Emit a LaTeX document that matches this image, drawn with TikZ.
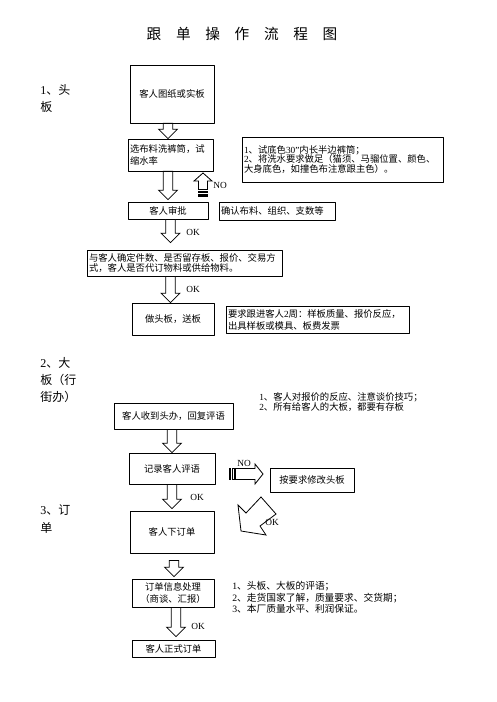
\documentclass[tikz,border=0pt]{standalone}
\usepackage{fontspec}
\setmainfont{Liberation Serif}
\newfontfamily\cjk{Noto Sans CJK SC}
\usetikzlibrary{calc}
\newcommand{\latn}[1]{{\rmfamily#1}}
\tikzset{
  box/.style={draw,line width=0.6pt,inner sep=1.5pt,font=\cjk\fontsize{7}{8.5}\selectfont},
  lbox/.style={box,align=left},
  note/.style={inner sep=0pt,align=left,font=\cjk\fontsize{7}{8}\selectfont},
  sec/.style={inner sep=0pt,align=left,font=\cjk\fontsize{9}{13}\selectfont},
  tag/.style={inner sep=0pt,font=\fontsize{7}{8}\selectfont},
  blk/.style={draw,line width=0.6pt,line join=miter,fill=white},
}
% hollow block arrow: x, start, tip
\newcommand{\blkdown}[3]{%
  \draw[blk] let \p3=(#1,0), \p1=#2, \p2=#3 in
    (\x3-3.5pt,\y1) -- (\x3-3.5pt,\y2+7pt) -- (\x3-7pt,\y2+7pt) -- (\x3,\y2)
    -- (\x3+7pt,\y2+7pt) -- (\x3+3.5pt,\y2+7pt) -- (\x3+3.5pt,\y1) -- cycle;}

\begin{document}
\begin{tikzpicture}[x=0.75pt,y=-0.75pt,line cap=round,line join=round]
\useasboundingbox (0,0) rectangle (496,702);
\node[font=\cjk\fontsize{11}{13}\selectfont] (title) at (242,34) {跟　单　操　作　流　程　图};
% 1 head sample
\node[sec,anchor=west] (s1) at (40,98.5) {\latn{1}、头\\板};
\node[box,minimum width=63pt,minimum height=43.5pt] (b1) at (172,94) {客人图纸或实板};
\node[lbox,text width=60.75pt,minimum height=24pt] (b2) at (170.5,155) {选布料洗裤筒，试\\缩水率};
\node[lbox,text width=147.75pt,minimum height=33.75pt,font=\cjk\fontsize{7}{7.3}\selectfont] (n1) at (342.5,159.5) {\latn{1}、试底色\latn{30''}内长半边裤筒；\\\latn{2}、将洗水要求做足（猫须、马骝位置、颜色、\\大身底色，如撞色布注意跟主色）。};
\node[box,minimum width=60pt,minimum height=12.75pt] (b3) at (168,210.5) {客人审批};
\node[lbox,text width=84pt,minimum height=13.5pt] (n3) at (277,211) {确认布料、组织、支数等};
\node[lbox,text width=143.25pt,minimum height=19.5pt,font=\cjk\fontsize{7}{7.3}\selectfont] (b4) at (184.5,263) {与客人确定件数、是否留存板、报价、交易方\\式，客人是否代订物料或供给物料。};
\node[box,minimum width=61.5pt,minimum height=24pt] (b5) at (173,319) {做头板，送板};
\node[lbox,text width=134.25pt,minimum height=20.25pt,font=\cjk\fontsize{7}{9}\selectfont] (n5) at (317.5,319.5) {要求跟进客人\latn{2}周：样板质量、报价反应，\\出具样板或模具、板费发票};
% 2 big sample
\node[sec,anchor=west] (s2) at (40,380) {\latn{2}、大\\板（行\\街办）};
\node[note,anchor=west] (t6) at (259,402) {\latn{1}、客人对报价的反应、注意谈价技巧；\\\latn{2}、所有给客人的大板，都要有存板};
\node[box,minimum width=89.25pt,minimum height=19.5pt] (b6) at (173.5,416) {客人收到头办，回复评语};
\node[box,minimum width=64.5pt,minimum height=23.25pt] (b7) at (172,468.5) {记录客人评语};
\node[box,minimum width=63pt,minimum height=18pt] (b8) at (312,480) {按要求修改头板};
% 3 order
\node[sec,anchor=west] (s3) at (40,519) {\latn{3}、订\\单};
\node[box,minimum width=63pt,minimum height=31.5pt] (b9) at (172,532) {客人下订单};
\node[box,align=center,minimum width=61.5pt,minimum height=21pt] (b10) at (173,593) {订单信息处理\\（商谈、汇报）};
\node[note,anchor=west,font=\cjk\fontsize{7.3}{8.6}\selectfont] (t10) at (232,597.5) {\latn{1}、头板、大板的评语；\\\latn{2}、走货国家了解，质量要求、交货期；\\\latn{3}、本厂质量水平、利润保证。};
\node[box,minimum width=62.25pt,minimum height=12.75pt] (b11) at (173.5,648.5) {客人正式订单};
% arrows
\blkdown{168}{(b1.south)}{(b2.north)}
\blkdown{168}{(b2.south)}{($(b3.north)+(0,-2)$)}
\blkdown{170.5}{(b3.south)}{($(b4.north)+(0,-7)$)}
\blkdown{170.5}{(b4.south)}{(b5.north)}
\blkdown{172}{(b6.south)}{(b7.north)}
\blkdown{172}{(b7.south)}{($(b9.north)+(0,-2)$)}
\blkdown{174}{($(b9.south)+(0,7)$)}{($(b10.north)+(0,-2)$)}
\blkdown{176}{(b10.south)}{($(b11.north)+(0,-3)$)}
\draw[blk] (198.5,189.5) -- (198.5,181) -- (194,181) -- (203,173) -- (212,181) -- (207.5,181) -- (207.5,189.5) -- cycle;
\draw[blk] (198.5,191) rectangle (207.5,192.5);
\draw[blk,fill=black] (198.5,194) rectangle (207.5,196.5);
\draw[blk,fill=black] (229,468.5) rectangle (230.5,479.5);
\draw[blk] (232,468.5) rectangle (234,479.5);
\draw[blk] (235.5,468.5) -- (255,468.5) -- (255,464) -- (263,474) -- (255,484) -- (255,479.5) -- (235.5,479.5) -- cycle;
\draw[blk] (261,497) -- (276,514) -- (260,526) -- (266,535) -- (241,531) -- (238,505) -- (246,513) -- cycle;
\node[tag] (ok1) at (193,232) {OK};
\node[tag] (ok2) at (193,289) {OK};
\node[tag] (no1) at (220,185) {NO};
\node[tag] (no2) at (244,463) {NO};
\node[tag] (ok3) at (197,497) {OK};
\node[tag] (ok4) at (272,522) {OK};
\node[tag] (ok5) at (198,626) {OK};
\end{tikzpicture}
\end{document}
